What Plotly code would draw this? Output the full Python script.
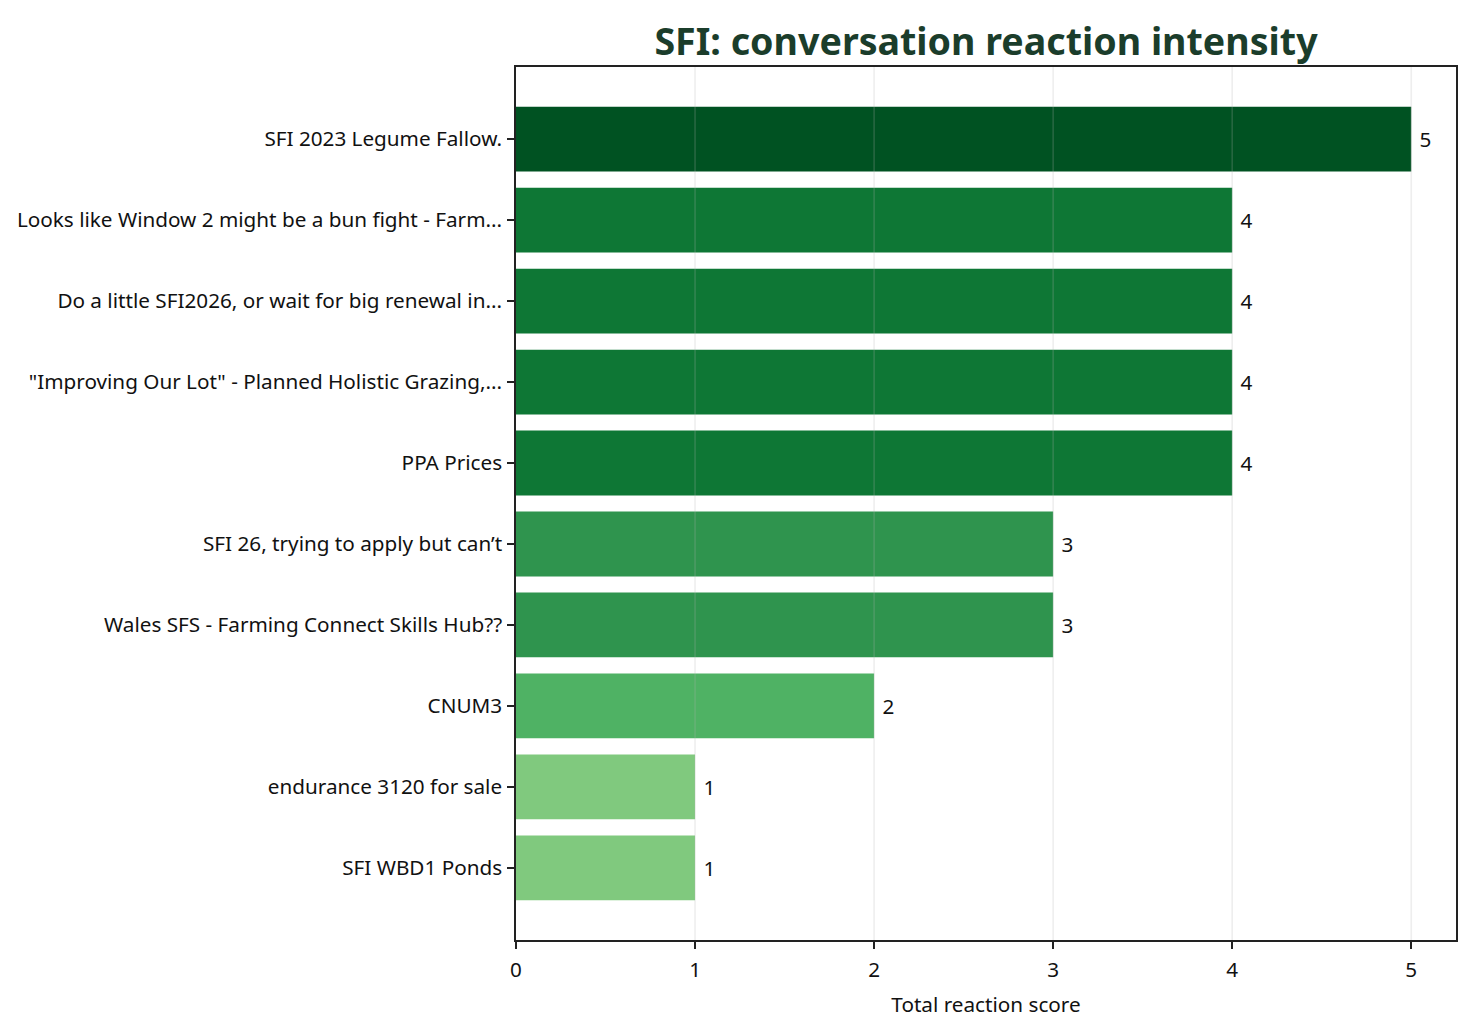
import plotly.graph_objects as go

topics = [
    "SFI 2023 Legume Fallow.",
    "Looks like Window 2 might be a bun fight - Farm...",
    "Do a little SFI2026, or wait for big renewal in...",
    "\"Improving Our Lot\" - Planned Holistic Grazing,...",
    "PPA Prices",
    "SFI 26, trying to apply but can’t",
    "Wales SFS - Farming Connect Skills Hub??",
    "CNUM3",
    "endurance 3120 for sale",
    "SFI WBD1 Ponds",
]
scores = [5, 4, 4, 4, 4, 3, 3, 2, 1, 1]
score_colors = {5: "#005222", 4: "#0e7735", 3: "#2f944e", 2: "#4fb264", 1: "#80c97e"}
x_ticks = [0, 1, 2, 3, 4, 5]

FS = 20.7

fig = go.Figure()
fig.add_trace(go.Bar(
    y=topics,
    x=scores,
    orientation="h",
    width=0.8,
    marker=dict(color=[score_colors[s] for s in scores], line=dict(width=0)),
    text=[" " + str(s) for s in scores],
    textposition="outside",
    textfont=dict(family="Noto Sans", size=FS, color="#111111"),
    cliponaxis=False,
    hoverinfo="skip",
))

# grid lines drawn above the bars, as in the reference
for t in x_ticks[1:]:
    fig.add_shape(
        type="line", xref="x", yref="paper", x0=t, x1=t, y0=0, y1=1,
        line=dict(color="rgba(176,176,176,0.22)", width=1.6), layer="above",
    )

fig.update_layout(
    width=1471,
    height=1035,
    paper_bgcolor="white",
    plot_bgcolor="white",
    margin=dict(l=516, r=15, t=67, b=95),
    showlegend=False,
    font=dict(family="Noto Sans", size=FS, color="#111111"),
    title=dict(
        text="<b>SFI: conversation reaction intensity</b>",
        font=dict(family="Noto Sans", size=37.6, color="#1b3d2b"),
        x=(516 + 1456) / 2 / 1471,
        xanchor="center",
        y=1 - 42 / 1035,
        yanchor="middle",
    ),
    bargap=0.2,
)

fig.update_xaxes(
    range=[0, 5.25],
    tickvals=x_ticks,
    showgrid=False,
    zeroline=False,
    showline=True,
    linecolor="#222222",
    linewidth=1.5,
    mirror=True,
    ticks="outside",
    ticklen=7,
    tickwidth=1.5,
    tickcolor="#222222",
    tickfont=dict(size=FS),
    ticklabelstandoff=3,
    title=dict(text="Total reaction score", font=dict(size=FS), standoff=16),
    layer="above traces",
)
fig.update_yaxes(
    autorange=False,
    range=[9.89, -0.89],
    showgrid=False,
    zeroline=False,
    showline=True,
    linecolor="#222222",
    linewidth=1.5,
    mirror=True,
    ticks="outside",
    ticklen=7,
    tickwidth=1.5,
    tickcolor="#222222",
    tickfont=dict(size=FS),
    ticklabelstandoff=1,
)

fig.write_html(
    "out.html",
    config={"displayModeBar": False},
    post_script="document.body.style.margin='0px';document.body.style.overflow='hidden';",
)
